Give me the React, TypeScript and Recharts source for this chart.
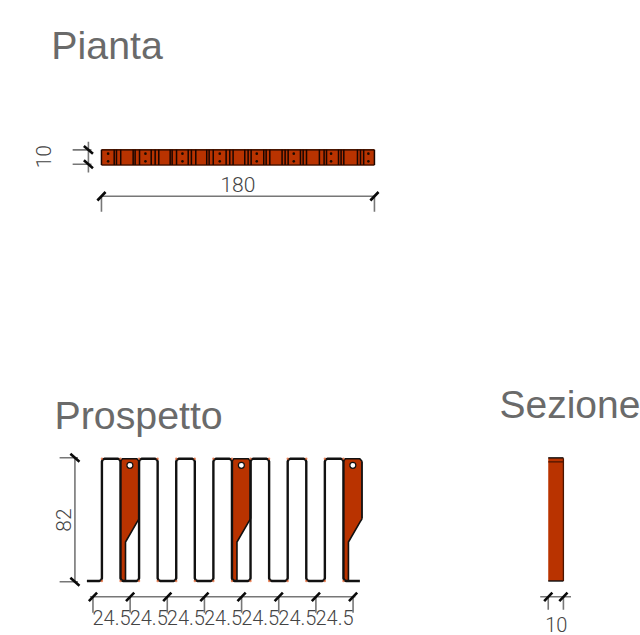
import { Area, ComposedChart, Line, ReferenceDot, Scatter, XAxis, YAxis } from "recharts"

// everything is in centimetres of the drawing, the sheet is 422 x 418.7
const SHEET_X = [0, 422]
const SHEET_Y = [0, 418.7]
const PLAN = { x: 66.9, y: 309.9 }
const FRONT = { x: 61.3, y: 35.6 }
const SIDE = { x: 361.5, y: 35.6 }

const planLength = 180
const planDepth = 10
const frontHeight = 80.6
const moduleStep = 24.5
const moduleTicks = [0, 24.5, 49, 73.5, 98, 122.5, 147, 171.5]
const moduleLabels = ["24.5", "24.5", "24.5", "24.5", "24.5", "24.5", "24.5"]
const uprights = [5.9, 18.15, 30.4, 42.65, 54.9, 67.15, 79.4, 91.65, 103.9, 116.15, 128.4, 140.65, 152.9, 165.15]
const panelStarts = [18.15, 91.65, 165.15]
const planBars = [
  8.4, 9.9, 12.7, 20.9, 22.2, 25.1, 32.8, 35.4, 37.8, 45.3, 46.6, 49.5, 57.2, 59.3, 62.2, 69.4, 71, 73.7, 82.2, 84.6,
  86.8, 94.5, 96.7, 98.7, 107, 108.6, 111, 119.1, 121.1, 123.1, 131.2, 133, 135.2, 143.7, 146.8, 148.4, 156.3, 158,
  159.8, 168.8, 170.8, 172.9,
]
const planDotsX = [4.4, 29, 53.4, 78, 102.4, 126.8, 151.4, 176]
const planDotsY = [2.4, 7.5]
const panelProfile = [
  { x: 0, lo: 1.5, hi: 79 },
  { x: 1.2, lo: 0, hi: 80.6 },
  { x: 3.3, lo: 0, hi: 80.6 },
  { x: 3.3, lo: 25.7, hi: 80.6 },
  { x: 10.8, lo: 38.6, hi: 80.6 },
  { x: 12.25, lo: 41, hi: 79 },
]

const RED = "#b93300"
const DIM = "#777777"
const TEXT = "#444444"
const TITLE = "#6a6a6a"
const THIN = "Roboto, sans-serif"
const TITLE_FONT = "'Liberation Sans', Arial, sans-serif"

type Pt = { x: number; y: number | null }

const at = (o: { x: number; y: number }, x: number, y: number): Pt => ({ x: o.x + x, y: o.y + y })
// polyline with gaps, a null y breaks the line
const segs = (list: Pt[][]): Pt[] => list.flatMap((s) => [...s, { x: s[0].x, y: null }])

const wire: Pt[] = [at(FRONT, -4, 0)]
uprights.forEach((u, i) => {
  const r = 1.8
  const up = i % 2 === 0
  const a = up ? 0 : frontHeight
  const b = up ? frontHeight : 0
  const s = up ? 1 : -1
  wire.push(at(FRONT, u - r, a), at(FRONT, u - r * 0.3, a + s * r * 0.3))
  wire.push(at(FRONT, u, a + s * r), at(FRONT, u, b - s * r), at(FRONT, u + r * 0.3, b - s * r * 0.3), at(FRONT, u + r, b))
})
wire.push(at(FRONT, 176, 0))
const wireCorners = uprights.flatMap((u) => [at(FRONT, u, 0), at(FRONT, u, frontHeight)])

const vDim = (o: typeof PLAN, x: number, from: number, to: number, ext: number, ys: number[]) => [
  [at(o, x, from), at(o, x, to)],
  ...ys.map((y) => [at(o, ext, y), at(o, x + 2, y)]),
]
const hDim = (o: typeof PLAN, y: number, from: number, to: number, ext: number, xs: number[]) => [
  [at(o, from, y), at(o, to, y)],
  ...xs.map((x) => [at(o, x, y), at(o, x, ext)]),
]
const dimLines = segs([
  ...vDim(PLAN, -8.6, -5, 15.4, -19, [0.5, 10]),
  ...hDim(PLAN, -20.6, 0, planLength, -30.8, [0, planLength]),
  ...vDim(FRONT, -11.9, -0.5, 81.3, -22, [-0.5, 81.3]),
  ...hDim(FRONT, -10.4, -2, 173, -21, moduleTicks),
  ...hDim(SIDE, -10.4, -5.3, 15, -19, [0, 10]),
])
const dimTicks = segs([
  ...[0.5, 10].map((y) => [at(PLAN, -11.6, y + 2.6), at(PLAN, -5.6, y - 2.6)]),
  ...[0, planLength].map((x) => [at(PLAN, x - 2.7, -23.4), at(PLAN, x + 2.7, -17.8)]),
  ...[-0.5, 81.3].map((y) => [at(FRONT, -14.9, y + 2.6), at(FRONT, -8.9, y - 2.6)]),
  ...moduleTicks.map((x) => [at(FRONT, x - 2.7, -13.2), at(FRONT, x + 2.7, -7.6)]),
  ...[0, 10].map((x) => [at(SIDE, x - 2.7, -13.2), at(SIDE, x + 2.7, -7.6)]),
])
const barLines = segs([
  ...planBars.map((x) => [at(PLAN, x, 0), at(PLAN, x, planDepth)]),
  [at(PLAN, 0, 0), at(PLAN, 0, planDepth)],
  [at(PLAN, planLength, 0), at(PLAN, planLength, planDepth)],
])
const planDots = planDotsX.flatMap((x) => planDotsY.map((y) => at(PLAN, x, y)))
// the Area stroke leaves out the two sides of a panel
const panelEdges = segs(
  panelStarts.map((start) => [
    at(FRONT, start + panelProfile[5].x, panelProfile[5].lo),
    at(FRONT, start + panelProfile[5].x, panelProfile[5].hi),
  ]),
)

const planArea = [0, planLength].map((x) => ({ x: PLAN.x + x, v: [PLAN.y, PLAN.y + planDepth] }))
const sideArea = [0, planDepth].map((x) => ({ x: SIDE.x + x, v: [SIDE.y, SIDE.y + frontHeight + 0.6] }))
const sideEdges = segs([
  [at(SIDE, 10, 0), at(SIDE, 10, 81)],
  [at(SIDE, 0, 78.6), at(SIDE, 10, 78.6)],
])

const Dot = (p: any) => <circle cx={p.cx} cy={p.cy} r={1.3} fill="#1a0a00" />
const Speck = (p: any) => <circle cx={p.cx} cy={p.cy} r={1.2} fill="#e8622c" fillOpacity={0.7} />

const label = (text: string, x: number, y: number, size: number, angle = 0, title = false) => (
  <ReferenceDot
    key={text + x}
    x={x}
    y={y}
    r={0}
    stroke="none"
    fill="none"
    label={{
      value: text,
      position: "center",
      fontSize: size,
      fill: title ? TITLE : TEXT,
      fontFamily: title ? TITLE_FONT : THIN,
      fontWeight: title ? 400 : 300,
      angle,
    }}
  />
)

export default function App() {
  return (
    <div style={{ position: "absolute", left: 0, top: 0, width: 640, height: 635 }}>
      <ComposedChart width={640} height={635} margin={{ top: 0, right: 0, bottom: 0, left: 0 }} data={planArea}>
        <XAxis type="number" dataKey="x" domain={SHEET_X} hide allowDataOverflow />
        <YAxis type="number" domain={SHEET_Y} hide allowDataOverflow />

        <Line data={dimLines} dataKey="y" stroke={DIM} strokeWidth={1.6} dot={false} isAnimationActive={false} />
        <Line data={dimTicks} dataKey="y" stroke="#0a0a0a" strokeWidth={2.6} dot={false} isAnimationActive={false} />

        <Area data={planArea} dataKey="v" fill={RED} fillOpacity={1} stroke="#4a1500" strokeWidth={1.6} isAnimationActive={false} />
        <Line data={barLines} dataKey="y" stroke="#1a0600" strokeWidth={1.5} dot={false} isAnimationActive={false} />
        <Scatter data={planDots} dataKey="y" shape={Dot} isAnimationActive={false} />

        <Area data={sideArea} dataKey="v" fill={RED} fillOpacity={1} stroke="#111111" strokeWidth={1.4} isAnimationActive={false} />
        <Line data={sideEdges} dataKey="y" stroke="#4a1500" strokeWidth={1.3} dot={false} isAnimationActive={false} />

        <Scatter data={wireCorners} dataKey="y" shape={Speck} isAnimationActive={false} />
        {panelStarts.map((start) => (
          <Area
            key={start}
            data={panelProfile.map((p) => ({ x: FRONT.x + start + p.x, v: [FRONT.y + p.lo, FRONT.y + p.hi] }))}
            dataKey="v"
            fill={RED}
            fillOpacity={1}
            stroke="#111111"
            strokeWidth={1.6}
            isAnimationActive={false}
          />
        ))}
        <Line data={panelEdges} dataKey="y" stroke="#111111" strokeWidth={1.8} dot={false} isAnimationActive={false} />
        <Line data={wire} dataKey="y" stroke="#111111" strokeWidth={2.4} dot={false} isAnimationActive={false} />
        {panelStarts.map((start) => (
          <ReferenceDot key={start} x={FRONT.x + start + 6.2} y={FRONT.y + 76.3} r={3} fill="#ffffff" stroke="#111111" strokeWidth={1.2} />
        ))}

        {label("Pianta", 70.6, 389, 39.3, 0, true)}
        {label("Prospetto", 91.4, 145, 39.3, 0, true)}
        {label("Sezione", 375.8, 152.3, 39, 0, true)}
        {label("10", PLAN.x - 38.5, PLAN.y + 5.5, 21, -90)}
        {label("180", PLAN.x + planLength / 2, PLAN.y - 13.2, 21)}
        {label("82", FRONT.x - 19.1, FRONT.y + 40.2, 21, -90)}
        {moduleLabels.map((text, i) => label(text, FRONT.x + moduleTicks[i] + moduleStep / 2, FRONT.y - 24.4, 20))}
        {label("10", SIDE.x + 5.3, SIDE.y - 28.7, 20)}
      </ComposedChart>
    </div>
  )
}
